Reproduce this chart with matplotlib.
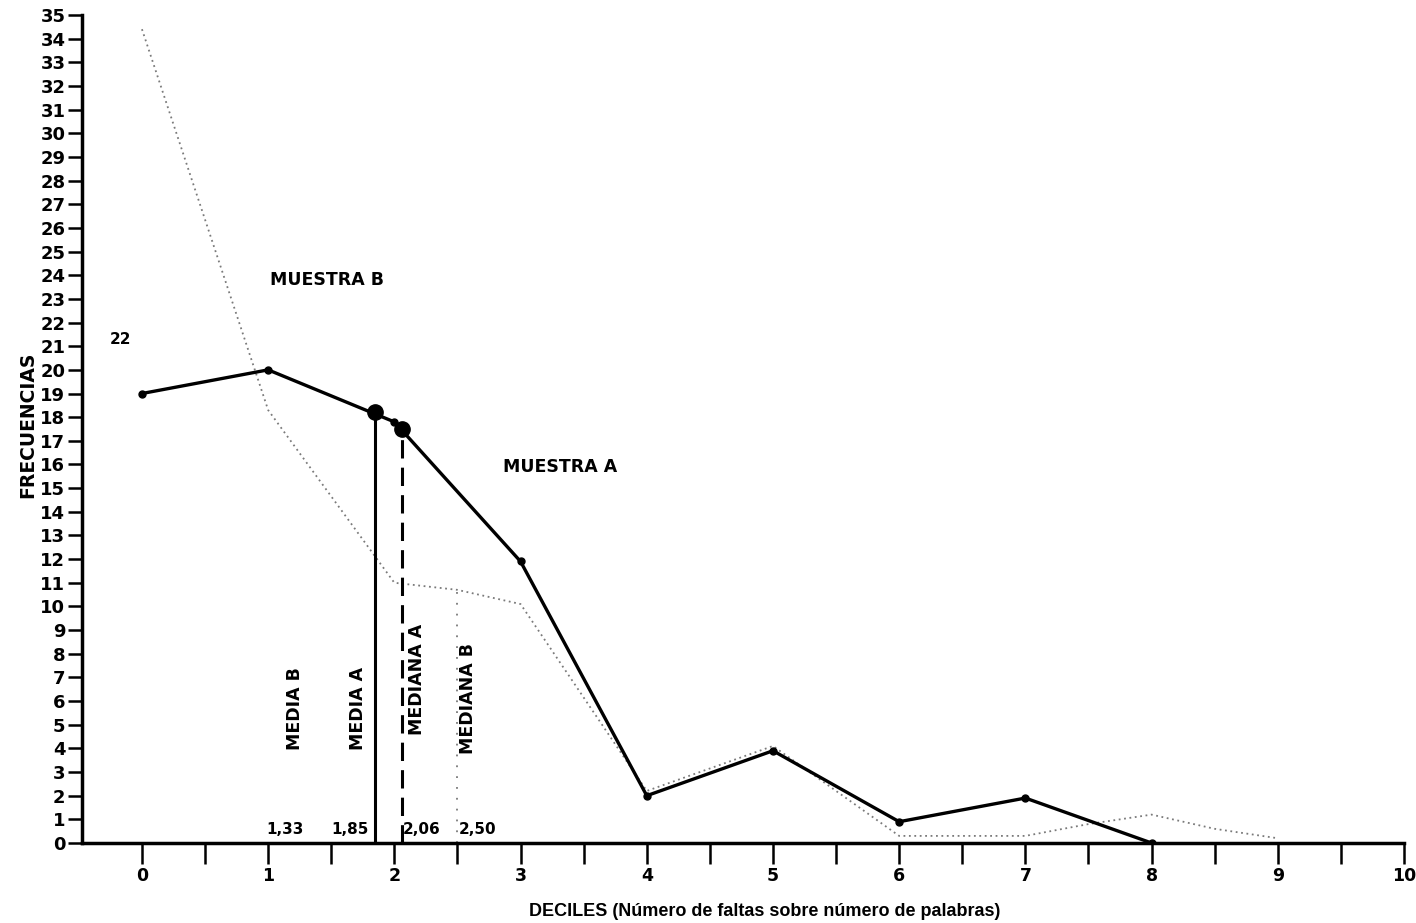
import matplotlib
matplotlib.use("Agg")
import matplotlib.pyplot as plt
import numpy as np

plt.rcParams['font.family'] = ['DejaVu Sans']

deciles = [0, 1, 2, 3, 4, 5, 6, 7, 8]
muestra_a = [19.0, 20.0, 17.8, 11.9, 2.0, 3.9, 0.9, 1.9, 0.0]

deciles_b = [0, 1, 2, 2.5, 3, 4, 5, 6, 7, 7.5, 8, 8.5, 9]
muestra_b = [34.4, 18.3, 11.0, 10.7, 10.1, 2.2, 4.1, 0.3, 0.3, 0.8, 1.2, 0.6, 0.2]

media_a, media_a_y = 1.85, 18.2
mediana_a, mediana_a_y = 2.06, 17.5
media_b = 1.33
mediana_b, mediana_b_y = 2.50, 10.7

stat_labels = ["MEDIA B", "MEDIA A", "MEDIANA A", "MEDIANA B"]
stat_values = ["1,33", "1,85", "2,06", "2,50"]

fig = plt.figure(figsize=(14.16, 9.23), dpi=100)
ax = fig.add_axes([82/1416, 1-843/923, (1404-82)/1416, (843-15)/923])
ax.set_xlim(-0.475, 10)
ax.set_ylim(0, 35)

# Muestra B (dotted gray)
ax.plot(deciles_b, muestra_b, color='#7a7a7a', linestyle=(0, (1, 2)), lw=1.3, zorder=2)
# Muestra A (solid black)
ax.plot(deciles, muestra_a, color='black', lw=2.4, marker='o', markersize=5, zorder=3)

# vertical stat lines
ax.plot([media_a, media_a], [0, media_a_y], color='black', lw=2.2, zorder=3)
ax.plot([mediana_a, mediana_a], [0, mediana_a_y], color='black', lw=2.2,
        linestyle=(0, (6, 3)), zorder=3)
ax.plot([mediana_b, mediana_b], [0, mediana_b_y], color='#7a7a7a', lw=1.3,
        linestyle=(0, (1, 5)), zorder=2)
ax.plot([media_a, mediana_a], [media_a_y, mediana_a_y], 'o', color='black',
        markersize=11, zorder=4)

# stat labels
lab_x = [1.21, 1.71, 2.18, 2.58]
lab_y = [5.7, 5.7, 6.9, 6.1]
for x, y, t in zip(lab_x, lab_y, stat_labels):
    ax.text(x, y, t, rotation=90, ha='center', va='center', fontsize=12.5,
            fontweight='bold')
val_x = [1.13, 1.65, 2.22, 2.66]
for x, t in zip(val_x, stat_values):
    ax.text(x, 0.55, t, ha='center', va='center', fontsize=11, fontweight='bold')

ax.text(1.47, 23.8, "MUESTRA B", ha='center', va='center', fontsize=12.5, fontweight='bold')
ax.text(3.31, 15.9, "MUESTRA A", ha='center', va='center', fontsize=12.5, fontweight='bold')
ax.text(-0.17, 21.3, "22", ha='center', va='center', fontsize=11, fontweight='bold')

# spines / ticks
for s in ['top', 'right']:
    ax.spines[s].set_visible(False)
ax.spines['left'].set_linewidth(2.5)
ax.spines['bottom'].set_linewidth(2.5)

ax.set_yticks(range(0, 36))
ax.set_yticklabels([str(i) for i in range(0, 36)], fontsize=13, fontweight='bold')
ax.tick_params(axis='y', direction='out', length=10, width=1.8, pad=2)

xt = np.arange(0, 10.5, 0.5)
ax.set_xticks(xt)
ax.set_xticklabels([str(int(v)) if v == int(v) else '' for v in xt],
                   fontsize=12.5, fontweight='bold')
ax.tick_params(axis='x', direction='out', length=15, width=1.8, pad=2)

ax.set_ylabel("FRECUENCIAS", fontsize=13.5, fontweight='bold')
ax.yaxis.set_label_coords(-0.034, 0.505)
fig.text(765/1416, 1-912/923, "DECILES (Número de faltas sobre número de palabras)",
         ha='center', va='center', fontsize=13, fontweight='bold',
         family='Liberation Sans')

fig.savefig("out.png", dpi=100)
